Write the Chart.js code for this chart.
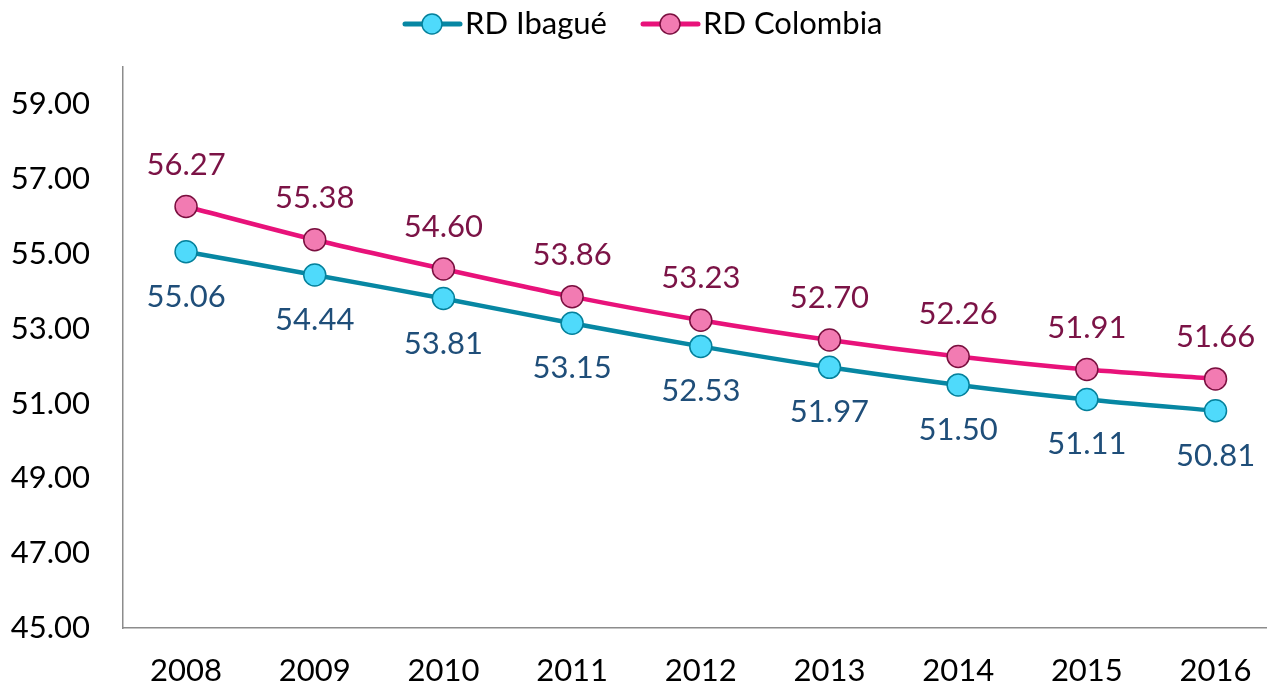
<!DOCTYPE html>
<html>
<head>
<meta charset="utf-8">
<script src="https://cdn.jsdelivr.net/npm/chart.js@4"></script>
<style>
  html, body { margin: 0; padding: 0; background: #fff; }
  #wrap { width: 1267px; height: 687px; }
</style>
</head>
<body>
<div id="wrap"><canvas id="linechart"></canvas></div>
<script>
var years = [2008, 2009, 2010, 2011, 2012, 2013, 2014, 2015, 2016];
var ibague = [55.06, 54.44, 53.81, 53.15, 52.53, 51.97, 51.50, 51.11, 50.81];
var colombia = [56.27, 55.38, 54.60, 53.86, 53.23, 52.70, 52.26, 51.91, 51.66];
var yTicks = [45, 47, 49, 51, 53, 55, 57, 59];
var seriesNames = ["RD Ibagué", "RD Colombia"];

var FONT = "Lato, 'Open Sans', sans-serif";
var FS = 31;

function toPoints(vals) {
  return vals.map(function (v, i) { return { x: years[i], y: v }; });
}

// value labels: Colombia above, Ibagué below
var valueLabels = {
  id: "valueLabels",
  afterDatasetsDraw: function (chart) {
    var ctx = chart.ctx;
    ctx.save();
    ctx.font = FS + "px " + FONT;
    ctx.textAlign = "center";
    ctx.textBaseline = "middle";
    chart.data.datasets.forEach(function (ds, di) {
      var meta = chart.getDatasetMeta(di);
      meta.data.forEach(function (pt, i) {
        var above = di === 1;
        ctx.fillStyle = ds.labelColor;
        ctx.fillText(ds.data[i].y.toFixed(2), pt.x, above ? pt.y - 42 : pt.y + 45);
      });
    });
    ctx.restore();
  }
};

// legend with line + marker, like the office chart
var lineLegend = {
  id: "lineLegend",
  afterDraw: function (chart) {
    var ctx = chart.ctx;
    var items = [{ ds: chart.data.datasets[0], x: 405 }, { ds: chart.data.datasets[1], x: 643 }];
    ctx.save();
    ctx.font = FS + "px " + FONT;
    ctx.textBaseline = "middle";
    items.forEach(function (it) {
      var y = 24;
      ctx.strokeStyle = it.ds.borderColor;
      ctx.lineWidth = 5;
      ctx.lineCap = "round";
      ctx.beginPath();
      ctx.moveTo(it.x, y);
      ctx.lineTo(it.x + 55, y);
      ctx.stroke();
      ctx.beginPath();
      ctx.arc(it.x + 27, y, 10, 0, Math.PI * 2);
      ctx.fillStyle = it.ds.pointBackgroundColor;
      ctx.fill();
      ctx.lineWidth = 1.5;
      ctx.strokeStyle = it.ds.pointBorderColor;
      ctx.stroke();
      ctx.fillStyle = "#000";
      ctx.fillText(it.ds.label, it.x + 60, y);
    });
    ctx.restore();
  }
};

new Chart("linechart", {
  type: "line",
  data: {
    datasets: [{
      label: seriesNames[0],
      data: toPoints(ibague),
      borderColor: "#0787A3",
      borderWidth: 4.5,
      pointRadius: 11,
      pointHoverRadius: 11,
      pointBackgroundColor: "#4FDAFB",
      pointBorderColor: "#04809B",
      pointBorderWidth: 1.5,
      labelColor: "#1F4E79",
      tension: 0.25
    }, {
      label: seriesNames[1],
      data: toPoints(colombia),
      borderColor: "#E8127A",
      borderWidth: 4.5,
      pointRadius: 11,
      pointHoverRadius: 11,
      pointBackgroundColor: "#F27BB2",
      pointBorderColor: "#7A0F3F",
      pointBorderWidth: 1.5,
      labelColor: "#7B1346",
      tension: 0.25
    }]
  },
  options: {
    responsive: true,
    maintainAspectRatio: false,
    animation: false,
    layout: { autoPadding: false, padding: { top: 67, right: 0, left: 0, bottom: 0 } },
    plugins: {
      legend: { display: false },
      tooltip: { enabled: false }
    },
    scales: {
      x: {
        type: "linear",
        min: 2007.51,
        max: 2016.4,
        grid: { display: false, drawTicks: true, tickLength: 24 },
        border: { display: true, color: "#8c8c8c", width: 1.5 },
        afterBuildTicks: function (axis) {
          axis.ticks = years.map(function (y) { return { value: y }; });
        },
        afterFit: function (axis) {
          axis.height = 59;
          axis.paddingLeft = 0;
          axis.paddingRight = 0;
        },
        ticks: {
          padding: 0,
          color: "#000",
          font: { size: FS, family: FONT },
          callback: function (v) { return String(v); }
        }
      },
      y: {
        min: 45,
        max: 60,
        grid: { display: false, drawTicks: false },
        border: { display: true, color: "#8c8c8c", width: 1.5 },
        afterBuildTicks: function (axis) {
          axis.ticks = yTicks.map(function (v) { return { value: v }; });
        },
        afterFit: function (axis) {
          axis.width = 123;
        },
        ticks: {
          padding: 33,
          color: "#000",
          font: { size: FS, family: FONT },
          callback: function (v) { return Number(v).toFixed(2); }
        }
      }
    }
  },
  plugins: [valueLabels, lineLegend]
});
</script>
</body>
</html>
